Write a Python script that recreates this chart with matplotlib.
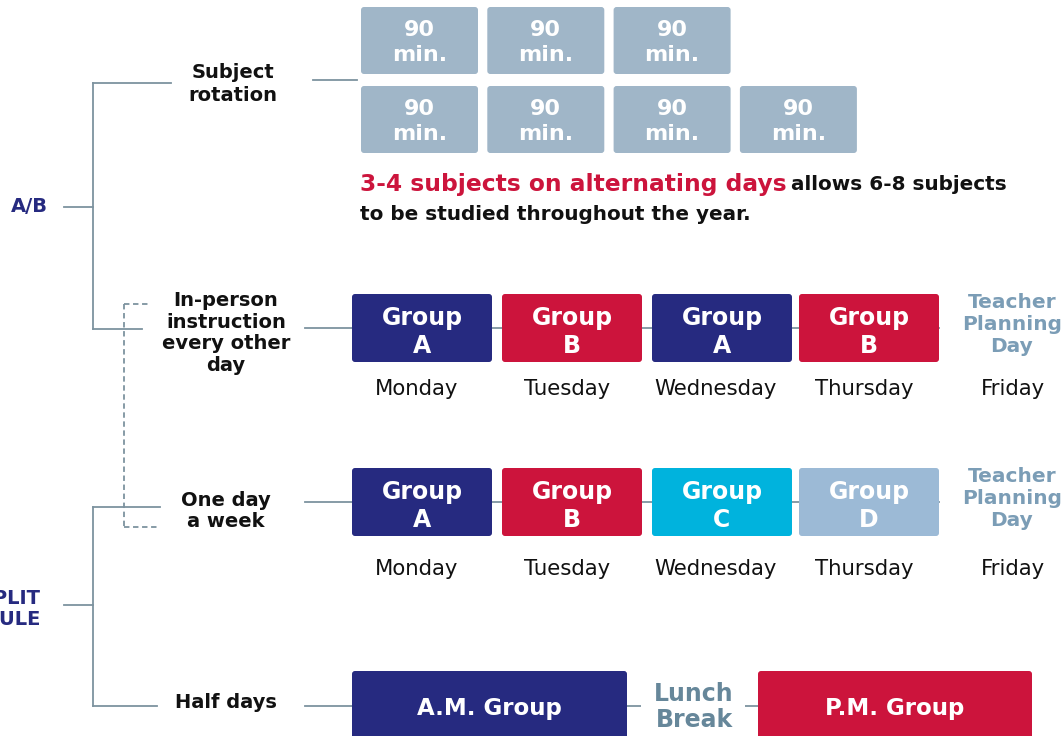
import matplotlib.pyplot as plt
from matplotlib.patches import FancyBboxPatch

# colours
navy = '#262a80'
red = '#cc143c'
cyan = '#00b3dd'
pale = '#9cbad6'
slate = '#a0b6c8'
line_c = '#7d939f'
teacher_c = '#7b9db6'
lunch_c = '#66879a'

# data
rotation_rows = [3, 4]
rotation_label = '90\nmin.'
days = ['Monday', 'Tuesday', 'Wednesday', 'Thursday', 'Friday']
every_other = ['Group\nA', 'Group\nB', 'Group\nA', 'Group\nB']
every_other_col = [navy, red, navy, red]
one_day = ['Group\nA', 'Group\nB', 'Group\nC', 'Group\nD']
one_day_col = [navy, red, cyan, pale]
half_days = ['A.M. Group', 'P.M. Group']
half_col = [navy, red]

plt.rcParams['font.family'] = ['DejaVu Sans']
fig = plt.figure(figsize=(10.62, 7.36), dpi=100)
ax = fig.add_axes([0, 0, 1, 1])
ax.set_xlim(0, 1062)
ax.set_ylim(736, 0)
ax.axis('off')


def box(x, y, w, h, color, label, size=17, dy=4, ls=1.21):
    ax.add_patch(FancyBboxPatch((x + 3, y + 3), w - 6, h - 6,
                                boxstyle='round,pad=3', fc=color, ec='none', zorder=3))
    ax.text(x + w / 2, y + h / 2 + dy, label, color='white', fontsize=size,
            fontweight='bold', ha='center', va='center', linespacing=ls, zorder=4)


def hline(y, x0, x1, **kw):
    ax.plot([x0, x1], [y, y], color=line_c, lw=1.3, zorder=1, **kw)


def vline(x, y0, y1, **kw):
    ax.plot([x, x], [y0, y1], color=line_c, lw=1.3, zorder=1, **kw)


# tree lines
hline(207, 64, 93)
vline(93, 83, 329)
hline(83, 93, 171)
hline(329, 93, 142)
hline(605, 64, 93)
vline(93, 507, 706)
hline(507, 93, 160)
hline(706, 93, 157)
# dashed link
hline(304, 124, 150, ls=(0, (3, 2)))
vline(124, 304, 527, ls=(0, (3, 2)))
hline(527, 124, 158, ls=(0, (3, 2)))

# category labels
ax.text(29, 207, 'A/B', color=navy, fontsize=14, fontweight='bold', ha='center', va='center')
ax.text(41, 609, 'SPLIT\nSCHEDULE', color=navy, fontsize=14, fontweight='bold',
        ha='right', va='center', linespacing=1.1)

sub_kw = dict(color='#111111', fontsize=14, fontweight='bold', ha='center', va='center')
ax.text(233, 84, 'Subject\nrotation', linespacing=1.22, **sub_kw)
ax.text(226, 333, 'In-person\ninstruction\nevery other\nday', linespacing=1.19, **sub_kw)
ax.text(226, 511, 'One day\na week', linespacing=1.19, **sub_kw)
ax.text(226, 703, 'Half days', **sub_kw)

# subject rotation boxes
hline(80, 313, 357)
row_y = [7, 86]
for r, n in enumerate(rotation_rows):
    for i in range(n):
        box(361 + i * 126.3, row_y[r], 117, 67, slate, rotation_label, size=16, dy=2, ls=1.33)

ax.text(360, 184, '3-4 subjects on alternating days', color=red, fontsize=16.8,
        fontweight='bold', ha='left', va='center')
ax.text(791, 185, 'allows 6-8 subjects', color='#111111', fontsize=14.4,
        fontweight='bold', ha='left', va='center')
ax.text(360, 215, 'to be studied throughout the year.', color='#111111', fontsize=14.4,
        fontweight='bold', ha='left', va='center')

# week rows
lefts = [352, 502, 652, 799]
day_x = [417, 567, 716, 864, 1013]
rows = [(294, 389, every_other, every_other_col), (468, 569, one_day, one_day_col)]
for y0, ylab, labels, cols in rows:
    hline(y0 + 34, 305, 939)
    for x, lab, c in zip(lefts, labels, cols):
        box(x, y0, 140, 68, c, lab)
    ax.text(1012, y0 + 30, 'Teacher\nPlanning\nDay', color=teacher_c, fontsize=14.5,
            fontweight='bold', ha='center', va='center', linespacing=1.2)
    for x, d in zip(day_x, days):
        ax.text(x, ylab, d, color='#111111', fontsize=15.3, ha='center', va='center')

# half days
hline(706, 305, 758)
box(352, 671, 275, 80, half_col[0], half_days[0], size=16.5, dy=-3)
box(758, 671, 274, 80, half_col[1], half_days[1], size=16.5, dy=-3)
ax.add_patch(plt.Rectangle((641, 680), 104, 56, fc='white', ec='none', zorder=2))
ax.text(694, 707, 'Lunch\nBreak', color=lunch_c, fontsize=17, fontweight='bold',
        ha='center', va='center', linespacing=1.12, zorder=4)

fig.savefig('out.png', dpi=100)
